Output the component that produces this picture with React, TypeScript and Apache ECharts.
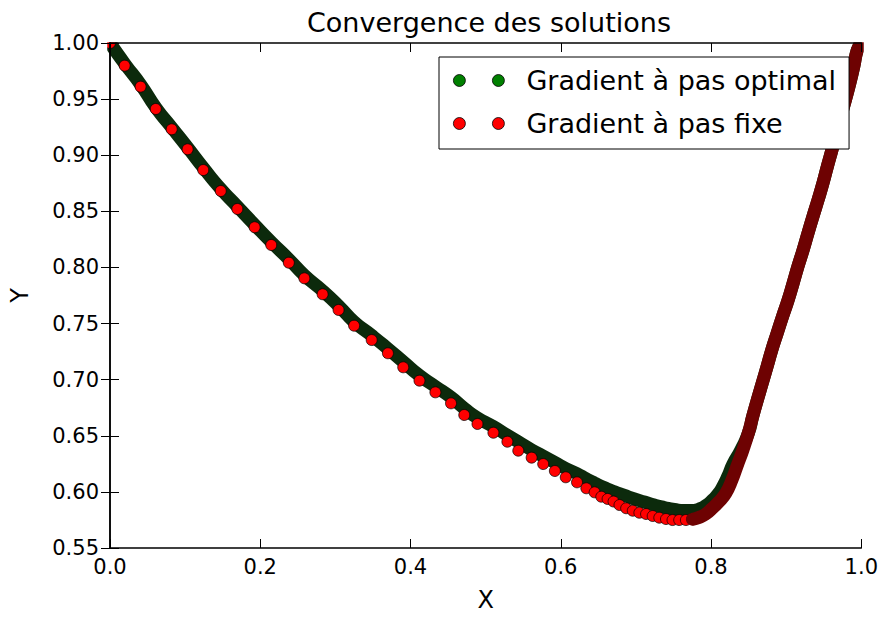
import React, { useEffect, useRef } from "react";
import * as echarts from "echarts";

const TITLE = "Convergence des solutions";
const NAME_OPTIMAL = "Gradient à pas optimal";
const NAME_FIXE = "Gradient à pas fixe";
const X_NAME = "X";
const Y_NAME = "Y";

// Gradient à pas optimal (green)
const optimalX = [
  0, 0.0199, 0.0411, 0.0609, 0.0821, 0.1033, 0.1245, 0.147, 0.1695, 0.1921,
  0.2146, 0.2384, 0.2583, 0.2834, 0.3046, 0.3245, 0.3483, 0.3695, 0.3907, 0.4119,
  0.4331, 0.4543, 0.4715, 0.4887, 0.5099, 0.5285, 0.543, 0.5616, 0.5762, 0.5921,
  0.6066, 0.6212, 0.6344, 0.645, 0.6583, 0.6715, 0.6848, 0.698, 0.7113, 0.7245,
  0.7377, 0.751, 0.7642, 0.7748, 0.7841, 0.7934, 0.8013, 0.8093, 0.8159, 0.8225,
  0.8291, 0.8395, 0.8497, 0.8556, 0.8616, 0.8682, 0.8748, 0.8808, 0.8881, 0.8954,
  0.9026, 0.9093, 0.9159, 0.9225, 0.9291, 0.9358, 0.9424, 0.949, 0.955, 0.9609,
  0.9669, 0.9728, 0.9788, 0.9848, 0.9901, 0.9947, 1,
];
const optimalY = [
  1, 0.9813, 0.9626, 0.9425, 0.9247, 0.9069, 0.8886, 0.8703, 0.8543, 0.8383,
  0.8227, 0.8071, 0.7933, 0.779, 0.7656, 0.7518, 0.7394, 0.7278, 0.7157, 0.7037,
  0.6939, 0.6841, 0.6745, 0.6661, 0.6583, 0.6507, 0.6448, 0.6373, 0.632, 0.6262,
  0.6208, 0.6164, 0.6115, 0.6079, 0.6037, 0.6, 0.5968, 0.5937, 0.591, 0.5883,
  0.5861, 0.5843, 0.5834, 0.5834, 0.5847, 0.5879, 0.5923, 0.5981, 0.6052, 0.6142,
  0.6248, 0.6373, 0.6525, 0.6676, 0.6819, 0.697, 0.7122, 0.7264, 0.7416, 0.7567,
  0.771, 0.7861, 0.8013, 0.8155, 0.8307, 0.8458, 0.8601, 0.8752, 0.8904, 0.9046,
  0.9198, 0.9349, 0.9492, 0.9644, 0.9795, 0.9938, 1,
];

// Gradient à pas fixe (red)
const fixeX = [
  0, 0.0195, 0.0407, 0.0609, 0.0821, 0.1033, 0.1241, 0.1474, 0.1695, 0.1925,
  0.2146, 0.238, 0.2587, 0.283, 0.3042, 0.3249, 0.3483, 0.3699, 0.3903, 0.4119,
  0.4331, 0.4539, 0.4715, 0.4891, 0.5103, 0.5289, 0.5434, 0.5612, 0.5766, 0.5921,
  0.6066, 0.6216, 0.634, 0.645, 0.6539, 0.6623, 0.6702, 0.6781, 0.687, 0.6958,
  0.7046, 0.7135, 0.7223, 0.7311, 0.74, 0.7487, 0.7576, 0.7665, 0.7752, 0.7841,
  0.793, 0.8017, 0.8106, 0.8195, 0.8278, 0.8351, 0.8424, 0.8497, 0.8556, 0.8616,
  0.8682, 0.8748, 0.8808, 0.8881, 0.8954, 0.9026, 0.9093, 0.9159, 0.9225, 0.9291,
  0.9358, 0.9424, 0.949, 0.955, 0.9609, 0.9669, 0.9728, 0.9788, 0.9848, 0.9901,
  0.9947, 1,
];
const fixeY = [
  1, 0.9798, 0.9611, 0.9412, 0.9231, 0.9053, 0.8868, 0.8681, 0.8521, 0.8358,
  0.82, 0.8042, 0.7903, 0.7761, 0.7621, 0.7481, 0.7353, 0.7235, 0.711, 0.6991,
  0.6887, 0.6789, 0.6685, 0.6605, 0.6527, 0.6447, 0.6367, 0.6305, 0.6248, 0.6186,
  0.613, 0.6085, 0.6032, 0.5996, 0.5957, 0.5937, 0.5914, 0.5883, 0.5854, 0.5832,
  0.5814, 0.5803, 0.5785, 0.577, 0.5758, 0.5749, 0.5749, 0.5749, 0.5756, 0.5773,
  0.5803, 0.5854, 0.5913, 0.5987, 0.6106, 0.624, 0.6373, 0.6525, 0.6676, 0.6819,
  0.697, 0.7122, 0.7264, 0.7416, 0.7567, 0.771, 0.7861, 0.8013, 0.8155, 0.8307,
  0.8458, 0.8601, 0.8752, 0.8904, 0.9046, 0.9198, 0.9349, 0.9492, 0.9644, 0.9795,
  0.9938, 1,
];

// from this X on, the fixed-step points are packed so densely they form a band
const FIXE_DENSE_FROM = 0.775;

const X_MIN = 0;
const X_MAX = 1;
const X_STEP = 0.2;
const Y_MIN = 0.55;
const Y_MAX = 1.0;
const Y_STEP = 0.05;

const FONT = "DejaVu Sans";
const TWO_DOTS =
  "path://M0,6a6,6 0 1,0 12,0a6,6 0 1,0 -12,0zM39,6a6,6 0 1,0 12,0a6,6 0 1,0 -12,0z";

// plot rectangle in pixels
const G_LEFT = 108;
const G_TOP = 43;
const G_W = 755;
const G_H = 505;

export default function App() {
  const ref = useRef<HTMLDivElement>(null);

  useEffect(() => {
    if (!ref.current) return;
    const chart = echarts.init(ref.current, null, { renderer: "svg" });

    const optimal = optimalX.map((x, i) => [x, optimalY[i]]);
    const fixe = fixeX.map((x, i) => [x, fixeY[i]]);
    const fixeDense = fixe.filter((p) => p[0] >= FIXE_DENSE_FROM);

    const tick = { show: true, inside: true, length: 9, lineStyle: { color: "#000", width: 1 } };
    const line = { show: true, lineStyle: { color: "#000", width: 1.5 } };
    const labelStyle = { fontFamily: FONT, fontSize: 21, color: "#000" };

    // white masks just outside the plot frame so markers are clipped at the frame like matplotlib
    const R = G_LEFT + G_W;
    const B = G_TOP + G_H;
    const mask = (x: number, y: number, w: number, h: number) => ({
      type: "rect",
      shape: { x, y, width: w, height: h },
      style: { fill: "#fff" },
      z: 5,
      silent: true,
    });

    const option: any = {
      animation: false,
      backgroundColor: "#fff",
      title: {
        text: TITLE,
        left: 484,
        top: 4,
        z: 10,
        textAlign: "center",
        textStyle: { fontFamily: FONT, fontSize: 27, fontWeight: "normal", color: "#000" },
      },
      legend: {
        orient: "vertical",
        left: 439,
        top: 57,
        z: 10,
        padding: [10, 13, 12, 14],
        itemGap: 16,
        itemWidth: 51,
        itemHeight: 12,
        backgroundColor: "#fff",
        borderColor: "#000",
        borderWidth: 1,
        borderRadius: 0,
        selectedMode: false,
        textStyle: { fontFamily: FONT, fontSize: 27, color: "#000", padding: [0, 0, 0, 17] },
        data: [
          {
            name: NAME_OPTIMAL,
            icon: TWO_DOTS,
            itemStyle: { color: "#008000", borderColor: "#000", borderWidth: 0.8, opacity: 1 },
          },
          {
            name: NAME_FIXE,
            icon: TWO_DOTS,
            itemStyle: { color: "#ff0000", borderColor: "#000", borderWidth: 0.8, opacity: 1 },
          },
        ],
      },
      grid: { left: G_LEFT, top: G_TOP, width: G_W, height: G_H, containLabel: false },
      graphic: [
        mask(G_LEFT - 14, G_TOP - 14, G_W + 28, 13.25),
        mask(G_LEFT - 14, B + 0.75, G_W + 28, 13),
        mask(G_LEFT - 14, G_TOP - 14, 13.25, G_H + 28),
        mask(R + 0.75, G_TOP - 14, 13, G_H + 28),
      ],
      xAxis: [
        {
          type: "value",
          position: "bottom",
          z: 10,
          min: X_MIN,
          max: X_MAX,
          interval: X_STEP,
          axisLine: line,
          axisTick: tick,
          splitLine: { show: false },
          axisLabel: { ...labelStyle, margin: 8, formatter: (v: number) => v.toFixed(1) },
          name: X_NAME,
          nameLocation: "middle",
          nameGap: 40,
          nameTextStyle: { fontFamily: FONT, fontSize: 24, color: "#000" },
        },
        {
          type: "value",
          position: "top",
          z: 10,
          min: X_MIN,
          max: X_MAX,
          interval: X_STEP,
          axisLine: line,
          axisTick: tick,
          splitLine: { show: false },
          axisLabel: { show: false },
        },
      ],
      yAxis: [
        {
          type: "value",
          position: "left",
          z: 10,
          min: Y_MIN,
          max: Y_MAX,
          interval: Y_STEP,
          axisLine: line,
          axisTick: tick,
          splitLine: { show: false },
          axisLabel: { ...labelStyle, margin: 11, formatter: (v: number) => v.toFixed(2) },
          name: Y_NAME,
          nameLocation: "middle",
          nameGap: 78,
          nameTextStyle: { fontFamily: FONT, fontSize: 24, color: "#000" },
        },
        {
          type: "value",
          position: "right",
          z: 10,
          min: Y_MIN,
          max: Y_MAX,
          interval: Y_STEP,
          axisLine: line,
          axisTick: tick,
          splitLine: { show: false },
          axisLabel: { show: false },
        },
      ],
      series: [
        {
          name: NAME_OPTIMAL,
          type: "line",
          data: optimal,
          symbol: "none",
          smooth: 0.6,
          silent: true,
          lineStyle: { color: "#0c2a0c", width: 13, cap: "round", join: "round" },
          itemStyle: { color: "#008000" },
          z: 2,
        },
        {
          name: NAME_FIXE,
          type: "scatter",
          data: fixe,
          symbol: "circle",
          symbolSize: 11,
          silent: true,
          itemStyle: { color: "#ff0000", borderColor: "#000", borderWidth: 0.7, opacity: 1 },
          z: 3,
        },
        {
          name: NAME_FIXE,
          type: "line",
          data: fixeDense,
          symbol: "none",
          smooth: 0.5,
          silent: true,
          lineStyle: { color: "#6e0202", width: 13, cap: "round", join: "round" },
          itemStyle: { color: "#ff0000" },
          z: 4,
        },
      ],
    };

    chart.setOption(option);
    return () => chart.dispose();
  }, []);

  return (
    <div
      ref={ref}
      style={{ position: "fixed", left: 0, top: 0, width: 881, height: 617, background: "#fff" }}
    />
  );
}
